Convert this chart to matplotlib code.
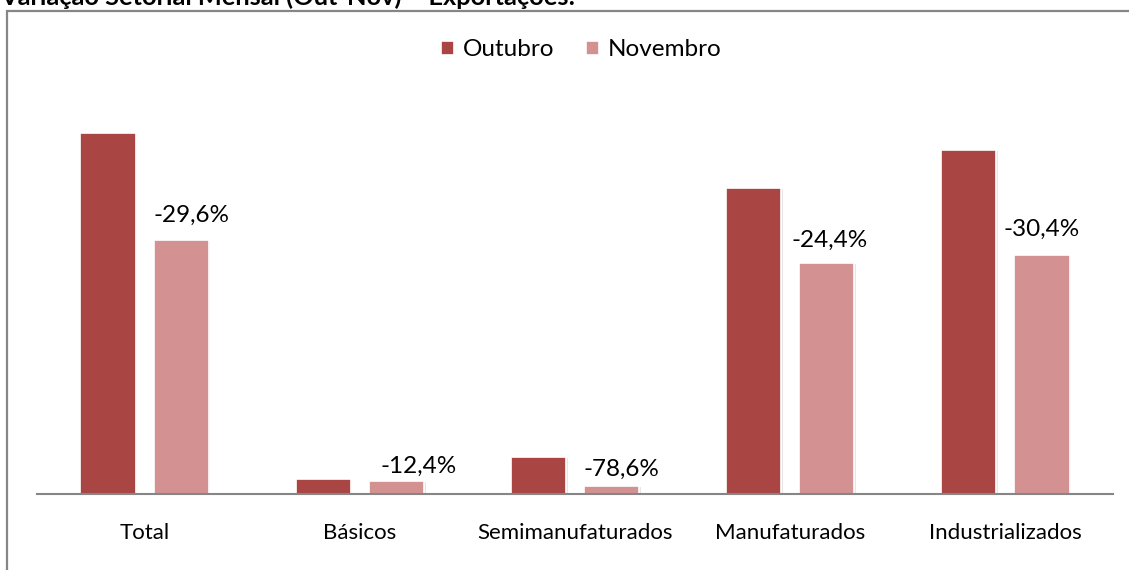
import matplotlib.pyplot as plt
from matplotlib.patches import Rectangle
import numpy as np

plt.rcParams["font.family"] = ["Lato", "DejaVu Sans"]

# dados
categorias = ["Total", "Básicos", "Semimanufaturados", "Manufaturados", "Industrializados"]
outubro = [18.05, 0.75, 1.85, 15.3, 17.2]
novembro = [12.7, 0.65, 0.40, 11.55, 11.95]
variacao = ["-29,6%", "-12,4%", "-78,6%", "-24,4%", "-30,4%"]

# deslocamentos dos rótulos (pixels)
rot_dx = [10, 22, 10, 3, 0]
rot_dy = [25, 15, 17, 23, 26]

cor_out = "#A94644"
cor_nov = "#D39291"
cinza = "#868686"

W, H = 1129, 570
fig = plt.figure(figsize=(W / 100, H / 100), dpi=100)

# moldura
fig.patches.append(Rectangle((7 / W, -0.2), 2, 1.2 - 10.5 / H, transform=fig.transFigure,
                             fill=False, edgecolor=cinza, linewidth=1.6))
fig.text(0, 1 - 5 / H, "Variação Setorial Mensal (Out-Nov) – Exportações:",
         fontsize=18.3, fontweight="bold", va="baseline", ha="left")

ax = fig.add_axes([37 / W, 1 - 494 / H, 1076 / W, 400 / H])
x = np.arange(len(categorias))
larg = 0.256
off = 0.17

# sombra leve
ax.bar(x - off + 0.008, outubro, larg, bottom=-0.05, color="#e6e6e6", zorder=1)
ax.bar(x + off + 0.008, novembro, larg, bottom=-0.05, color="#e6e6e6", zorder=1)
b1 = ax.bar(x - off, outubro, larg, color=cor_out, edgecolor="white", linewidth=1.2,
            label="Outubro", zorder=2)
b2 = ax.bar(x + off, novembro, larg, color=cor_nov, edgecolor="white", linewidth=1.2,
            label="Novembro", zorder=2)

for i, r in enumerate(b2):
    ax.annotate(variacao[i], (r.get_x() + r.get_width() / 2, r.get_height()),
                xytext=(rot_dx[i], rot_dy[i]), textcoords="offset pixels",
                ha="center", va="center", fontsize=17.5)

ax.set_xlim(-0.5, 4.5)
ax.set_ylim(0, 20)
ax.set_xticks(x)
ax.set_xticklabels(categorias, fontsize=16)
ax.tick_params(axis="x", length=0, pad=21)
ax.set_yticks([])
for s in ["top", "left", "right"]:
    ax.spines[s].set_visible(False)
ax.spines["bottom"].set_color(cinza)
ax.spines["bottom"].set_linewidth(1.5)
ax.spines["bottom"].set_zorder(3)

fig.legend(handles=[b1, b2], loc="center", bbox_to_anchor=(581 / W, 1 - 50 / H),
           ncol=2, frameon=False, fontsize=17.5, handlelength=0.55, handleheight=0.55,
           handletextpad=0.35, columnspacing=1.3)

fig.savefig("out.png", dpi=100)
